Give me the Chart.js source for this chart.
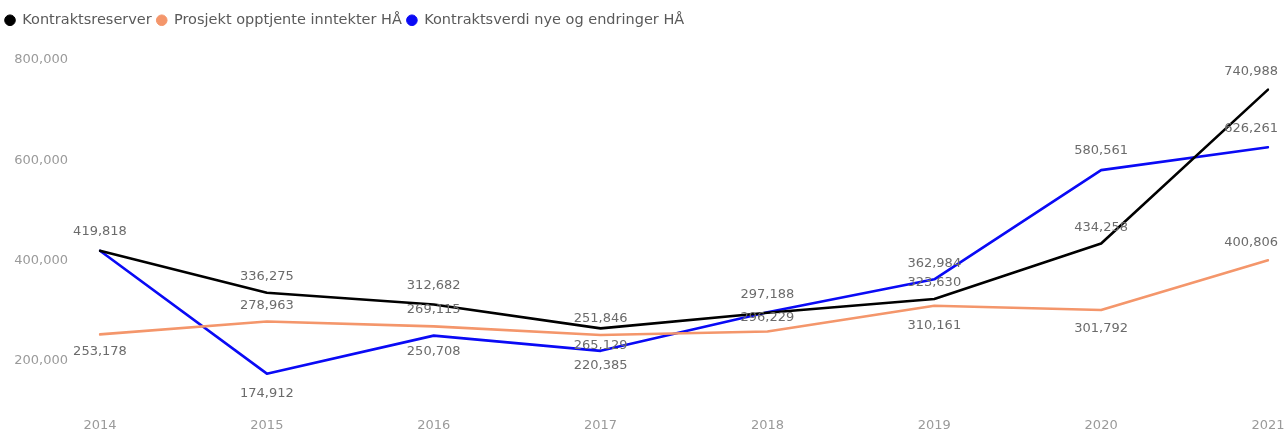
<!DOCTYPE html>
<html>
<head>
<meta charset="utf-8">
<script src="https://cdn.jsdelivr.net/npm/chart.js@4/dist/chart.umd.min.js"></script>
<style>
  html, body { margin: 0; padding: 0; background: #ffffff; }
  #wrap { width: 1287px; height: 437px; }
</style>
</head>
<body>
<div id="wrap"><canvas id="c" width="1287" height="437"></canvas></div>
<script>
// ---- data ----
const categories = ['2014', '2015', '2016', '2017', '2018', '2019', '2020', '2021'];
const kontraktsreserver = [419818, 336275, 312682, 265129, 296229, 323630, 434258, 740988];
const prosjektOpptjente = [253178, 278963, 269115, 251846, 259000, 310161, 301792, 400806];
const kontraktsverdiNye = [419818, 174912, 250708, 220385, 297188, 362984, 580561, 626261];
const yTickValues = [200000, 400000, 600000, 800000];
const seriesNames = ['Kontraktsreserver', 'Prosjekt opptjente inntekter HÅ', 'Kontraktsverdi nye og endringer HÅ'];

// label placement (vertical offset of each value label from its point, px); null = label hidden
const labelOffsets = [
  [-19, -16, -19, 17, 5, -16, -16, -18],
  [17, -16, -17, -16, null, 20, 19, -18],
  [null, 20, 16, 15, -18, -16, -19, -19]
];

const FONT = '"DejaVu Sans", sans-serif';
const fmt = v => v.toLocaleString('en-US');

const valueLabels = {
  id: 'valueLabels',
  afterDatasetsDraw(chart) {
    const ctx = chart.ctx;
    ctx.save();
    ctx.font = '13px ' + FONT;
    ctx.fillStyle = '#6b6b6b';
    ctx.textAlign = 'center';
    ctx.textBaseline = 'middle';
    const limit = chart.width - 9;
    chart.data.datasets.forEach((ds, di) => {
      const meta = chart.getDatasetMeta(di);
      meta.data.forEach((pt, i) => {
        const off = labelOffsets[di][i];
        if (off === null) return;
        const txt = fmt(ds.data[i]);
        const w = ctx.measureText(txt).width;
        const x = Math.min(pt.x, limit - w / 2);
        ctx.fillText(txt, x, pt.y + off);
      });
    });
    ctx.restore();
  }
};

// fixed-height legend band above the plot
const legendBand = {
  id: 'legendBand',
  beforeInit(chart) {
    const lg = chart.legend;
    if (!lg) return;
    const fit = lg.fit.bind(lg);
    lg.fit = function () { fit(); this.height = 50; };
  }
};

new Chart(document.getElementById('c'), {
  type: 'line',
  data: {
    labels: categories,
    datasets: [
      { label: seriesNames[0], data: kontraktsreserver, borderColor: '#000000', backgroundColor: '#000000' },
      { label: seriesNames[1], data: prosjektOpptjente, borderColor: '#F4966B', backgroundColor: '#F4966B' },
      { label: seriesNames[2], data: kontraktsverdiNye, borderColor: '#0A0AF5', backgroundColor: '#0A0AF5' }
    ]
  },
  options: {
    responsive: false,
    animation: false,
    layout: { padding: { left: 0, right: 0, top: 8, bottom: 0 } },
    elements: {
      line: { borderWidth: 2.6, tension: 0, borderJoinStyle: 'round', borderCapStyle: 'round' },
      point: { radius: 0, hoverRadius: 0 }
    },
    plugins: {
      legend: {
        position: 'top',
        align: 'start',
        labels: {
          usePointStyle: true,
          pointStyle: 'circle',
          boxWidth: 10,
          boxHeight: 7.5,
          padding: 5,
          color: '#5a5a5a',
          font: { family: FONT, size: 14.5 }
        }
      },
      tooltip: { enabled: false }
    },
    scales: {
      x: {
        offset: false,
        grid: { display: false, drawTicks: false },
        border: { display: false },
        ticks: {
          color: '#9a9a9a',
          padding: 21,
          maxRotation: 0,
          autoSkip: false,
          font: { family: FONT, size: 13 }
        },
        afterFit(scale) { scale.height = 32; scale.paddingRight = 19; scale.paddingLeft = 0; }
      },
      y: {
        min: 128000,
        max: 804000,
        grid: { display: false, drawTicks: false },
        border: { display: false },
        afterBuildTicks(scale) { scale.ticks = yTickValues.map(v => ({ value: v })); },
        ticks: {
          color: '#9a9a9a',
          padding: 32,
          callback: v => fmt(v),
          font: { family: FONT, size: 13 }
        },
        afterFit(scale) { scale.width = 100; }
      }
    }
  },
  plugins: [valueLabels, legendBand]
});
</script>
</body>
</html>
